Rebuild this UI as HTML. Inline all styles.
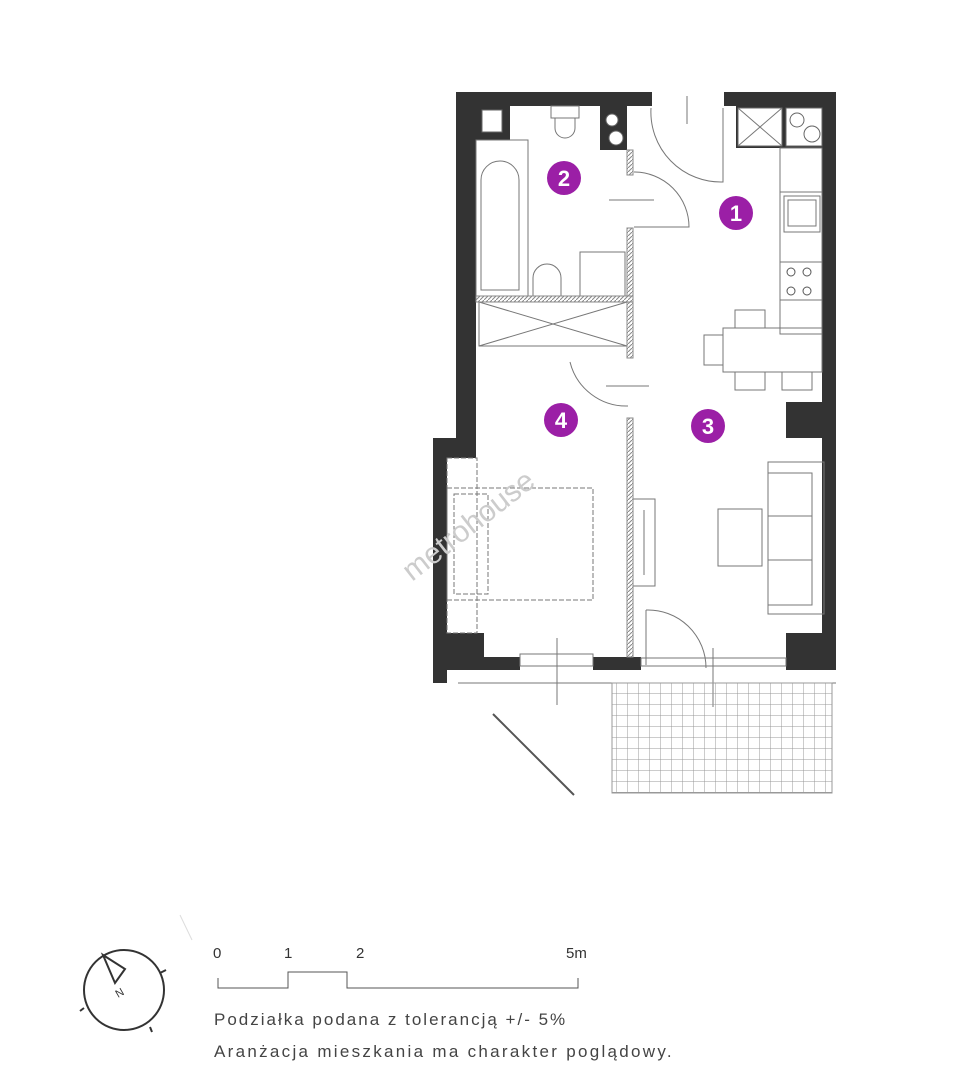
<!DOCTYPE html>
<html><head><meta charset="utf-8"><style>
html,body{margin:0;padding:0;background:#fff;}
svg{display:block}
text{font-family:"Liberation Sans",sans-serif;}
</style></head><body>
<svg width="962" height="1080" viewBox="0 0 962 1080" xmlns="http://www.w3.org/2000/svg">
<defs>
<pattern id="hatch" width="4" height="4" patternUnits="userSpaceOnUse"><rect width="4" height="4" fill="#fff"/><path d="M0 4L4 0" stroke="#888" stroke-width="1"/></pattern>
<pattern id="grid" width="11" height="11" patternUnits="userSpaceOnUse"><path d="M0 0H11M0 0V11" stroke="#999" stroke-width="1" fill="none"/></pattern>
</defs>
<g fill="#333">
<rect x="456" y="92" width="196" height="14"/>
<rect x="724" y="92" width="112" height="14"/>
<rect x="456" y="92" width="20" height="364"/>
<rect x="433" y="438" width="43" height="20"/>
<rect x="433" y="438" width="14" height="245"/>
<rect x="447" y="633" width="37" height="37"/>
<rect x="447" y="657" width="73" height="13"/>
<rect x="593" y="657" width="48" height="13"/>
<rect x="786" y="633" width="50" height="37"/>
<rect x="822" y="92" width="14" height="578"/>
<rect x="786" y="402" width="40" height="36"/>
<rect x="476" y="106" width="34" height="34"/>
<rect x="600" y="106" width="27" height="44"/>
<rect x="784" y="106" width="40" height="42"/>
<rect x="736" y="106" width="48" height="42"/>
</g>
<g fill="#fff" stroke="#666" stroke-width="1">
<rect x="482" y="110" width="20" height="22"/>
<circle cx="612" cy="120" r="6"/><circle cx="616" cy="138" r="7"/>
<rect x="738" y="108" width="44" height="38"/>
<rect x="786" y="108" width="36" height="38"/>
<circle cx="797" cy="120" r="7"/><circle cx="812" cy="134" r="8"/>
</g>
<g stroke="#777" stroke-width="1" fill="none">
<path d="M738 108L782 146M782 108L738 146"/>
<rect x="476" y="140" width="52" height="156"/>
<path d="M481 290V180a19 19 0 0 1 38 0V290Z"/>
<rect x="551" y="106" width="28" height="12"/>
<path d="M555 118v10a10 10 0 0 0 20 0v-10"/>
<path d="M533 296v-18a14 14 0 0 1 28 0v18"/>
<rect x="580" y="252" width="45" height="44"/>
<rect x="479" y="302" width="148" height="44"/>
<path d="M479 302L627 346M627 302L479 346"/>
<path d="M634 172a55 55 0 0 1 55 55H634"/>
<line x1="609" y1="200" x2="654" y2="200"/>
<path d="M651 108a70 70 0 0 0 72 74V108"/>
<line x1="687" y1="96" x2="687" y2="124"/>
<path d="M570 362a58 58 0 0 0 58 44"/>
<line x1="606" y1="386" x2="649" y2="386"/>
<path d="M646 610a58 58 0 0 1 60 58"/>
<line x1="646" y1="610" x2="646" y2="665"/>
<rect x="780" y="148" width="42" height="186"/>
<line x1="780" y1="192" x2="822" y2="192"/>
<rect x="784" y="196" width="36" height="36"/>
<rect x="788" y="200" width="28" height="26"/>
<line x1="780" y1="262" x2="822" y2="262"/>
<line x1="780" y1="300" x2="822" y2="300"/>
<g stroke="#555"><circle cx="791" cy="272" r="4"/><circle cx="807" cy="272" r="4"/><circle cx="791" cy="291" r="4"/><circle cx="807" cy="291" r="4"/></g>
<rect x="723" y="328" width="99" height="44"/>
<rect x="735" y="310" width="30" height="18"/>
<rect x="704" y="335" width="19" height="30"/>
<rect x="735" y="372" width="30" height="18"/>
<rect x="782" y="372" width="30" height="18"/>
<rect x="768" y="462" width="56" height="152"/>
<rect x="768" y="473" width="44" height="132"/>
<line x1="768" y1="516" x2="812" y2="516"/>
<line x1="768" y1="560" x2="812" y2="560"/>
<rect x="718" y="509" width="44" height="57"/>
<rect x="633" y="499" width="22" height="87"/>
<line x1="644" y1="510" x2="644" y2="575"/>
<g stroke-dasharray="5 2">
<rect x="447" y="488" width="146" height="112"/>
<rect x="454" y="494" width="34" height="100"/>
<rect x="447" y="458" width="30" height="175"/>
</g>
<rect x="520" y="654" width="73" height="12"/>
<rect x="641" y="658" width="145" height="8"/>
<line x1="458" y1="683" x2="836" y2="683"/>
<line x1="557" y1="638" x2="557" y2="705"/>
<line x1="713" y1="648" x2="713" y2="707"/>
<line x1="493" y1="714" x2="574" y2="795" stroke="#555" stroke-width="2"/>
</g>
<rect x="627" y="150" width="6" height="25" fill="url(#hatch)" stroke="#888"/>
<rect x="627" y="228" width="6" height="130" fill="url(#hatch)" stroke="#888"/>
<rect x="627" y="418" width="6" height="239" fill="url(#hatch)" stroke="#888"/>
<rect x="476" y="296" width="157" height="6" fill="url(#hatch)" stroke="#888"/>
<rect x="612" y="683" width="220" height="110" fill="url(#grid)" stroke="#999"/>
<g fill="#9b1fa6"><circle cx="564" cy="178" r="17"/><circle cx="736" cy="213" r="17"/><circle cx="708" cy="426" r="17"/><circle cx="561" cy="420" r="17"/></g>
<g fill="#fff" font-size="22" font-weight="bold" text-anchor="middle">
<text x="564" y="186">2</text><text x="736" y="221">1</text><text x="708" y="434">3</text><text x="561" y="428">4</text></g>
<text x="412" y="582" font-size="30" fill="#ccc" transform="rotate(-38 412 582)">metrohouse</text>
<g stroke="#333" stroke-width="2" fill="none">
<circle cx="124" cy="990" r="40"/>
<path d="M103 955l12 28 10-14z" fill="#fff"/>
<path d="M160 973l6-3M84 1008l-4 3M150 1027l2 5M119 1030l0 0"/>
</g>
<text x="118" y="998" font-size="11" fill="#333" transform="rotate(-30 118 998)">N</text>
<line x1="180" y1="915" x2="192" y2="940" stroke="#ddd"/>
<g font-size="15" fill="#333">
<text x="213" y="958">0</text><text x="284" y="958">1</text><text x="356" y="958">2</text><text x="566" y="958">5m</text></g>
<path d="M218 978V988H288V972H347V988H578V978" stroke="#555" fill="none"/>
<g font-size="17" fill="#444">
<text x="214" y="1025" letter-spacing="2">Podziałka podana z tolerancją +/- 5%</text>
<text x="214" y="1057" letter-spacing="2.3">Aranżacja mieszkania ma charakter poglądowy.</text></g>
</svg>
</body></html>
